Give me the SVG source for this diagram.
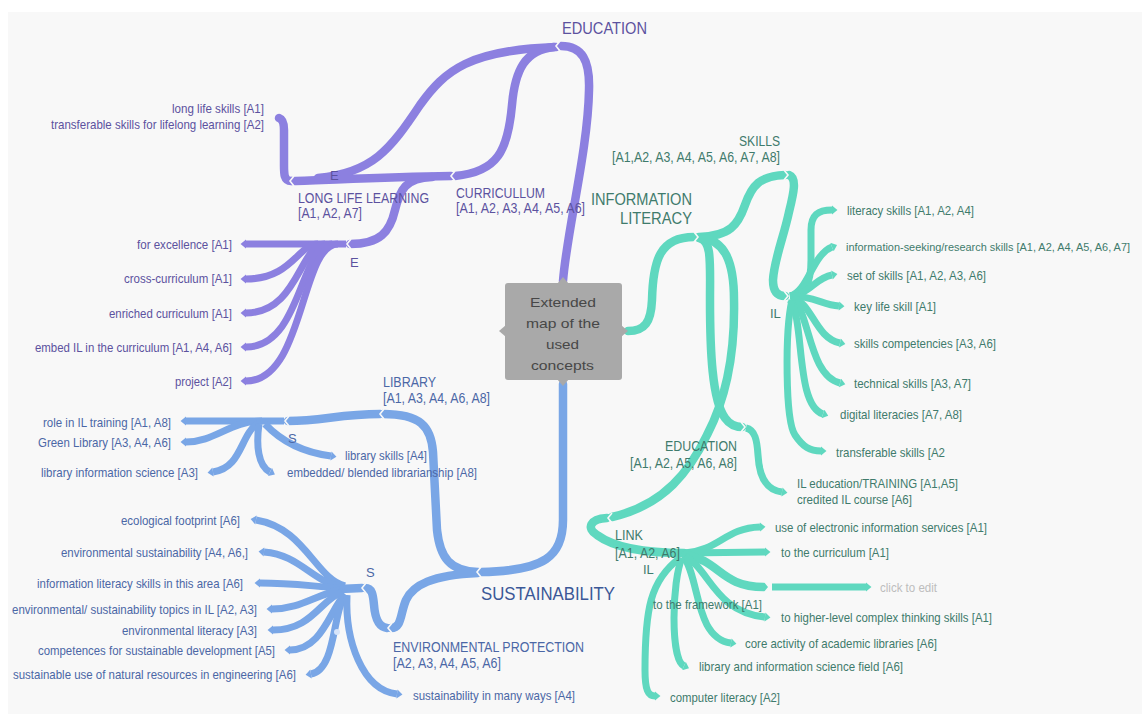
<svg xmlns="http://www.w3.org/2000/svg" width="1142" height="714" viewBox="0 0 1142 714">
<defs>
<style>
text{font-family:"Liberation Sans",Arial,sans-serif;font-size:13px}
.lbl{font-size:14px}
.tp{fill:#5c529f}.tb{fill:#4b67a6}.tt{fill:#3f7b6c}
.p,.pl{fill:none;stroke:#8c80e0;stroke-linecap:round}
.b,.bl{fill:none;stroke:#79a6e6;stroke-linecap:round}
.t,.tl{fill:none;stroke:#5fd8bf;stroke-linecap:round}
.p,.b,.t{stroke-width:8.5}
.pl,.bl,.tl{stroke-width:7;stroke-linecap:butt}
.pl{marker-end:url(#mp)}.bl{marker-end:url(#mb)}.tl{marker-end:url(#mt)}
.seam{fill:none;stroke:#f8f8f8;stroke-width:1.6}
</style>
<marker id="mp" viewBox="0 -5 6 10" refX="0" refY="0" markerWidth="0.9" markerHeight="1.3" orient="auto"><path d="M0,-5 L6,0 L0,5 Z" fill="#8c80e0"/></marker>
<marker id="mb" viewBox="0 -5 6 10" refX="0" refY="0" markerWidth="0.9" markerHeight="1.3" orient="auto"><path d="M0,-5 L6,0 L0,5 Z" fill="#79a6e6"/></marker>
<marker id="mt" viewBox="0 -5 6 10" refX="0" refY="0" markerWidth="0.9" markerHeight="1.3" orient="auto"><path d="M0,-5 L6,0 L0,5 Z" fill="#5fd8bf"/></marker>
<path id="sm" d="M3,-5 L-1,0 L3,5"/>
</defs>
<rect x="0" y="0" width="1142" height="714" fill="#ffffff"/>
<rect x="8" y="12" width="1134" height="702" fill="#f8f8f8"/>

<g id="connectors">
<g id="conn-education">
<path class="p" d="M563,281 C567,230 588,150 589,90 C590,60 582,46 561,46"/>
<path class="p" d="M556,47 C470,50 445,70 420,105 C390,150 372,173 318,178"/>
<path class="p" d="M554,47 C525,50 515,70 512,105 C508,150 498,172 455,176"/>
<path class="p" d="M292,181 C330,180 380,177 451,176"/>
<path class="p" d="M432,177 C405,178 400,190 395,210 C390,232 380,244 350,244"/>
<path class="p" d="M291,181 C284,181 284,174 284,165 L284,130 C284,122 282,119 279,118"/>
<path class="pl" d="M346,244 L246,244"/>
<path class="pl" d="M318,244 C298,244 292,279 246,279"/>
<path class="pl" d="M325,244 C300,244 298,313 246,313"/>
<path class="pl" d="M332,244 C300,244 302,347 246,347"/>
<path class="pl" d="M338,244 C300,244 305,381 246,381"/>
</g>
<g id="conn-sustainability">
<path class="b" d="M563,384 L563,520 C563,556 545,571 481,572"/>
<path class="b" d="M478,572 C450,571 440,558 437,530 L433,452 C431,426 420,414 383,414"/>
<path class="b" d="M380,414 C340,414 322,421 288,421"/>
<path class="bl" d="M284,421 L186,421"/>
<path class="bl" d="M262,421 C230,421 215,442 186,442"/>
<path class="bl" d="M258,423 C240,435 242,468 213,472"/>
<path class="bl" d="M265,424 C280,440 300,452 331,456"/>
<path class="bl" d="M259,424 C256,445 258,466 270,472"/>
<path class="b" d="M478,573 C432,575 413,585 406,600 C400,614 402,628 391,628"/>
<path class="b" d="M387,628 C378,627 375,618 374,605 C373,594 372,588 365,588"/>
<path class="b" d="M362,588 L340,589"/>
<path class="bl" d="M345,586 C315,578 305,528 256,520"/>
<path class="bl" d="M343,588 C310,580 300,555 264,552"/>
<path class="bl" d="M340,588 C310,586 290,583 260,583"/>
<path class="bl" d="M340,590 C315,595 300,609 272,609"/>
<path class="bl" d="M342,592 C320,600 312,630 273,630"/>
<path class="bl" d="M345,594 C330,610 322,650 290,650"/>
<path class="bl" d="M345,595 C333,610 336,670 311,674"/>
<path class="bl" d="M347,595 C345,640 362,690 397,694"/>
<circle cx="337" cy="632" r="3" fill="#d6e4fa"/>
</g>
<g id="conn-information-literacy">
<path class="t" d="M628,331 C645,331 651,322 652,300 C653,260 660,237 694,237"/>
<path class="t" d="M699,237 C730,236 738,225 745,205 C752,185 760,176 785,175"/>
<path class="t" d="M789,175 C797,178 794,192 789,212 C784,236 774,260 773,280 C773,292 778,296 785,296"/>
<path class="t" d="M699,238 C712,240 710,262 710,300 C710,350 712,400 725,418 C730,425 735,427 742,427"/>
<path class="t" d="M701,238 C725,240 734,262 734,300 C735,350 728,395 707,435 C690,470 665,505 612,517"/>
<path class="t" d="M607,518 C590,519 586,528 597,535 C612,546 640,553 684,553"/>
<path class="tl" d="M746,428 C755,430 757,440 758,455 C759,475 765,490 782,492"/>
<path class="tl" d="M790,296 C805,294 811,285 811,260 L811,230 C811,215 818,210 832,210"/>
<path class="tl" d="M790,296 C808,292 812,255 832,247"/>
<path class="tl" d="M790,296 C810,294 815,278 832,275"/>
<path class="tl" d="M790,296 C815,296 822,305 839,306"/>
<path class="tl" d="M792,298 C812,302 815,338 840,343"/>
<path class="tl" d="M792,299 C810,310 808,375 840,383"/>
<path class="tl" d="M790,300 C805,320 795,405 823,414"/>
<path class="tl" d="M792,300 C785,330 785,420 795,435 C803,447 810,451 821,451"/>
<path class="tl" d="M685,553 C720,550 725,528 760,527"/>
<path class="tl" d="M685,553 L765,552"/>
<path class="t" d="M685,555 C720,560 720,587 764,587"/>
<path class="tl" d="M772,587 L866,587"/>
<path class="tl" d="M685,556 C710,570 715,612 765,617"/>
<path class="tl" d="M684,557 C700,580 695,638 731,643"/>
<path class="tl" d="M682,558 C672,580 670,660 684,666"/>
<path class="tl" d="M680,558 C650,580 645,610 645,670 C645,690 648,696 655,696"/>
</g>
<g id="seams" class="seam">
<use href="#sm" transform="translate(557,46)"/>
<use href="#sm" transform="translate(291,181)"/>
<use href="#sm" transform="translate(452,176)"/>
<use href="#sm" transform="translate(348,244)"/>
<use href="#sm" transform="translate(478,572)"/>
<use href="#sm" transform="translate(381,414)"/>
<use href="#sm" transform="translate(286,421)"/>
<use href="#sm" transform="translate(389,628)"/>
<use href="#sm" transform="translate(363,588)"/>
<use href="#sm" transform="translate(697,237) scale(-1,1)"/>
<use href="#sm" transform="translate(787,175) scale(-1,1)"/>
<use href="#sm" transform="translate(787,296) scale(-1,1)"/>
<use href="#sm" transform="translate(744,427) scale(-1,1)"/>
<use href="#sm" transform="translate(609,518)"/>
<use href="#sm" transform="translate(768,587) scale(-1,1)"/>
</g>
</g>

<g id="node-center">
<rect x="505" y="283" width="117" height="97" rx="3" fill="#a9a9a9"/>
<polygon points="557,284 563,277 569,284" fill="#a9a9a9"/>
<polygon points="557,379 563,386 569,379" fill="#a9a9a9"/>
<polygon points="506,325 499,331 506,337" fill="#a9a9a9"/>
<polygon points="621,325 628,331 621,337" fill="#a9a9a9"/>
<g style="font-size:18px;fill:#474747">
<text x="530" y="306.5" textLength="66" lengthAdjust="spacingAndGlyphs">Extended</text>
<text x="526" y="328" textLength="74" lengthAdjust="spacingAndGlyphs">map of the</text>
<text x="546" y="348.5" textLength="33" lengthAdjust="spacingAndGlyphs">used</text>
<text x="531" y="369.5" textLength="63" lengthAdjust="spacingAndGlyphs">concepts</text>
</g>
</g>

<g id="node-education" class="tp">
<text x="562" y="34" style="font-size:17px" textLength="85" lengthAdjust="spacingAndGlyphs">EDUCATION</text>
</g>
<g id="node-lifelong-skills" class="tp">
<text x="172" y="112.5" textLength="92" lengthAdjust="spacingAndGlyphs">long life skills [A1]</text>
<text x="51" y="128.5" textLength="213" lengthAdjust="spacingAndGlyphs">transferable skills for lifelong learning [A2]</text>
</g>
<g id="node-long-life-learning" class="tp">
<text x="330" y="180">E</text>
<text class="lbl" x="298" y="203" textLength="131" lengthAdjust="spacingAndGlyphs">LONG LIFE LEARNING</text>
<text class="lbl" x="298" y="218" textLength="64" lengthAdjust="spacingAndGlyphs">[A1, A2, A7]</text>
</g>
<g id="node-curricullum" class="tp">
<text class="lbl" x="456" y="198" textLength="89" lengthAdjust="spacingAndGlyphs">CURRICULLUM</text>
<text class="lbl" x="456" y="213" textLength="129" lengthAdjust="spacingAndGlyphs">[A1, A2, A3, A4, A5, A6]</text>
</g>
<g id="node-e-hub" class="tp"><text x="350" y="267">E</text></g>
<g id="node-for-excellence" class="tp"><text x="137" y="248.5" textLength="95" lengthAdjust="spacingAndGlyphs">for excellence [A1]</text></g>
<g id="node-cross-curriculum" class="tp"><text x="124" y="283" textLength="108" lengthAdjust="spacingAndGlyphs">cross-curriculum [A1]</text></g>
<g id="node-enriched-curriculum" class="tp"><text x="109" y="317.5" textLength="123" lengthAdjust="spacingAndGlyphs">enriched curriculum [A1]</text></g>
<g id="node-embed-il" class="tp"><text x="35" y="351.5" textLength="197" lengthAdjust="spacingAndGlyphs">embed IL in the curriculum [A1, A4, A6]</text></g>
<g id="node-project" class="tp"><text x="175" y="386" textLength="57" lengthAdjust="spacingAndGlyphs">project [A2]</text></g>

<g id="node-sustainability"><text x="481" y="600" style="font-size:19px;fill:#3b5797" textLength="134" lengthAdjust="spacingAndGlyphs">SUSTAINABILITY</text></g>
<g id="node-library" class="tb">
<text class="lbl" x="383" y="387" textLength="53" lengthAdjust="spacingAndGlyphs">LIBRARY</text>
<text class="lbl" x="383" y="403" textLength="107" lengthAdjust="spacingAndGlyphs">[A1, A3, A4, A6, A8]</text>
</g>
<g id="node-s-library" class="tb"><text x="288" y="443">S</text></g>
<g id="node-role" class="tb"><text x="43" y="426.5" textLength="128" lengthAdjust="spacingAndGlyphs">role in IL training [A1, A8]</text></g>
<g id="node-green-library" class="tb"><text x="38" y="446.5" textLength="133" lengthAdjust="spacingAndGlyphs">Green Library [A3, A4, A6]</text></g>
<g id="node-lis" class="tb"><text x="41" y="476.5" textLength="157" lengthAdjust="spacingAndGlyphs">library information science [A3]</text></g>
<g id="node-library-skills" class="tb"><text x="345" y="459.5" textLength="82" lengthAdjust="spacingAndGlyphs">library skills [A4]</text></g>
<g id="node-embedded" class="tb"><text x="287" y="476.5" textLength="190" lengthAdjust="spacingAndGlyphs">embedded/ blended librarianship [A8]</text></g>
<g id="node-env-protection" class="tb">
<text class="lbl" x="393" y="652" textLength="191" lengthAdjust="spacingAndGlyphs">ENVIRONMENTAL PROTECTION</text>
<text class="lbl" x="393" y="668" textLength="108" lengthAdjust="spacingAndGlyphs">[A2, A3, A4, A5, A6]</text>
</g>
<g id="node-s-env" class="tb"><text x="366" y="577">S</text></g>
<g id="node-eco" class="tb"><text x="121" y="524.5" textLength="119" lengthAdjust="spacingAndGlyphs">ecological footprint [A6]</text></g>
<g id="node-env-sust" class="tb"><text x="61" y="556.5" textLength="187" lengthAdjust="spacingAndGlyphs">environmental sustainability [A4, A6,]</text></g>
<g id="node-il-skills-area" class="tb"><text x="37" y="587.5" textLength="206" lengthAdjust="spacingAndGlyphs">information literacy skills in this area [A6]</text></g>
<g id="node-env-topics" class="tb"><text x="12" y="613.5" textLength="245" lengthAdjust="spacingAndGlyphs">environmental/ sustainability topics in IL [A2, A3]</text></g>
<g id="node-env-literacy" class="tb"><text x="122" y="634.5" textLength="135" lengthAdjust="spacingAndGlyphs">environmental literacy [A3]</text></g>
<g id="node-competences" class="tb"><text x="38" y="654.5" textLength="237" lengthAdjust="spacingAndGlyphs">competences for sustainable development [A5]</text></g>
<g id="node-sust-use" class="tb"><text x="13" y="678.5" textLength="283" lengthAdjust="spacingAndGlyphs">sustainable use of natural resources in engineering [A6]</text></g>
<g id="node-many-ways" class="tb"><text x="413" y="699.5" textLength="162" lengthAdjust="spacingAndGlyphs">sustainability in many ways [A4]</text></g>

<g id="node-information-literacy" class="tt">
<text x="591" y="205" style="font-size:16px" textLength="101" lengthAdjust="spacingAndGlyphs">INFORMATION</text>
<text x="620" y="224" style="font-size:16px" textLength="72" lengthAdjust="spacingAndGlyphs">LITERACY</text>
</g>
<g id="node-skills" class="tt">
<text class="lbl" x="739" y="146" textLength="41" lengthAdjust="spacingAndGlyphs">SKILLS</text>
<text class="lbl" x="612" y="162" textLength="168" lengthAdjust="spacingAndGlyphs">[A1,A2, A3, A4, A5, A6, A7, A8]</text>
</g>
<g id="node-il-skills-hub" class="tt"><text x="770" y="318">IL</text></g>
<g id="node-literacy-skills" class="tt"><text x="847" y="214.5" textLength="127" lengthAdjust="spacingAndGlyphs">literacy skills [A1, A2, A4]</text></g>
<g id="node-info-seeking" class="tt"><text x="846" y="251" style="font-size:11.2px" textLength="284" lengthAdjust="spacingAndGlyphs">information-seeking/research skills [A1, A2, A4, A5, A6, A7]</text></g>
<g id="node-set-skills" class="tt"><text x="847" y="279.5" textLength="139" lengthAdjust="spacingAndGlyphs">set of skills [A1, A2, A3, A6]</text></g>
<g id="node-key-life" class="tt"><text x="854" y="310.5" textLength="82" lengthAdjust="spacingAndGlyphs">key life skill [A1]</text></g>
<g id="node-skills-comp" class="tt"><text x="854" y="347.5" textLength="142" lengthAdjust="spacingAndGlyphs">skills competencies [A3, A6]</text></g>
<g id="node-technical" class="tt"><text x="854" y="387.5" textLength="117" lengthAdjust="spacingAndGlyphs">technical skills [A3, A7]</text></g>
<g id="node-digital" class="tt"><text x="840" y="418.5" textLength="122" lengthAdjust="spacingAndGlyphs">digital literacies [A7, A8]</text></g>
<g id="node-transferable" class="tt"><text x="836" y="456.5" textLength="109" lengthAdjust="spacingAndGlyphs">transferable skills [A2</text></g>
<g id="node-education-il" class="tt">
<text class="lbl" x="665" y="451" textLength="72" lengthAdjust="spacingAndGlyphs">EDUCATION</text>
<text class="lbl" x="630" y="468" textLength="107" lengthAdjust="spacingAndGlyphs">[A1, A2, A5, A6, A8]</text>
</g>
<g id="node-il-training" class="tt">
<text x="797" y="487.5" textLength="161" lengthAdjust="spacingAndGlyphs">IL education/TRAINING [A1,A5]</text>
<text x="797" y="503.5" textLength="115" lengthAdjust="spacingAndGlyphs">credited IL course [A6]</text>
</g>
<g id="node-link" class="tt">
<text class="lbl" x="615" y="540" textLength="28" lengthAdjust="spacingAndGlyphs">LINK</text>
<text class="lbl" x="615" y="558" textLength="65" lengthAdjust="spacingAndGlyphs">[A1, A2, A6]</text>
<text x="643" y="574">IL</text>
</g>
<g id="node-electronic" class="tt"><text x="775" y="531.5" textLength="212" lengthAdjust="spacingAndGlyphs">use of electronic information services [A1]</text></g>
<g id="node-to-curriculum" class="tt"><text x="781" y="556.5" textLength="108" lengthAdjust="spacingAndGlyphs">to the curriculum [A1]</text></g>
<g id="node-click"><text x="880" y="591.5" style="fill:#bdbdbd" textLength="57" lengthAdjust="spacingAndGlyphs">click to edit</text></g>
<g id="node-framework" class="tt"><text x="653" y="608.5" textLength="109" lengthAdjust="spacingAndGlyphs">to the framework [A1]</text></g>
<g id="node-higher-level" class="tt"><text x="781" y="621.5" textLength="211" lengthAdjust="spacingAndGlyphs">to higher-level complex thinking skills [A1]</text></g>
<g id="node-core-activity" class="tt"><text x="745" y="647.5" textLength="192" lengthAdjust="spacingAndGlyphs">core activity of academic libraries [A6]</text></g>
<g id="node-lis-field" class="tt"><text x="699" y="670.5" textLength="204" lengthAdjust="spacingAndGlyphs">library and information science field [A6]</text></g>
<g id="node-computer-literacy" class="tt"><text x="670" y="701.5" textLength="110" lengthAdjust="spacingAndGlyphs">computer literacy [A2]</text></g>
</svg>
